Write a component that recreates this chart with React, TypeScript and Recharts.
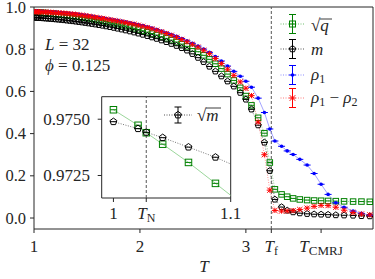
import React from 'react';
import { ComposedChart, Line, XAxis, YAxis, ReferenceLine, ReferenceArea } from 'recharts';

// ---------------- data ----------------
const T = [
  1.000, 1.021, 1.028, 1.042, 1.064, 1.087, 1.110, 1.133, 1.157, 1.181,
  1.206, 1.231, 1.257, 1.283, 1.310, 1.338, 1.366, 1.394, 1.424, 1.454,
  1.484, 1.515, 1.547, 1.580, 1.613, 1.647, 1.681, 1.717, 1.753, 1.789,
  1.827, 1.865, 1.905, 1.945, 1.985, 2.027, 2.070, 2.113, 2.158, 2.203,
  2.249, 2.296, 2.345, 2.394, 2.444, 2.495, 2.548, 2.601, 2.656, 2.712,
  2.769, 2.827, 2.886, 2.947, 3.000, 3.053, 3.116, 3.175, 3.226, 3.274,
  3.337, 3.390, 3.446, 3.509, 3.578, 3.644, 3.710, 3.776, 3.849, 3.927,
  4.012, 4.091, 4.170,
];

const SQRT_Q = [
  0.9754, 0.9747, 0.9744, 0.9739, 0.9731, 0.9722, 0.9712, 0.9703, 0.9693, 0.9682,
  0.9670, 0.9657, 0.9643, 0.9629, 0.9613, 0.9596, 0.9578, 0.9559, 0.9538, 0.9516,
  0.9494, 0.9468, 0.9440, 0.9410, 0.9378, 0.9345, 0.9310, 0.9272, 0.9232, 0.9190,
  0.9144, 0.9096, 0.9045, 0.8990, 0.8933, 0.8872, 0.8807, 0.8740, 0.8668, 0.8593,
  0.8514, 0.8430, 0.8338, 0.8240, 0.8135, 0.8030, 0.7880, 0.7710, 0.7520, 0.7310,
  0.7080, 0.6820, 0.6520, 0.6170, 0.5780, 0.5340, 0.4750, 0.4020, 0.2630, 0.1360,
  0.1120, 0.1010, 0.0930, 0.0880, 0.0850, 0.0830, 0.0820, 0.0810, 0.0800, 0.0790,
  0.0780, 0.0780, 0.0770,
];

const M = [
  0.9504, 0.9498, 0.9495, 0.9490, 0.9482, 0.9473, 0.9463, 0.9454, 0.9444, 0.9433,
  0.9422, 0.9410, 0.9397, 0.9383, 0.9368, 0.9352, 0.9335, 0.9317, 0.9297, 0.9276,
  0.9254, 0.9231, 0.9206, 0.9180, 0.9152, 0.9122, 0.9091, 0.9057, 0.9021, 0.8983,
  0.8942, 0.8899, 0.8852, 0.8802, 0.8750, 0.8693, 0.8632, 0.8568, 0.8500, 0.8425,
  0.8345, 0.8260, 0.8165, 0.8060, 0.7945, 0.7780, 0.7600, 0.7400, 0.7180, 0.6950,
  0.6720, 0.6480, 0.6240, 0.5940, 0.5620, 0.5150, 0.4400, 0.3580, 0.2240, 0.0880,
  0.0520, 0.0360, 0.0280, 0.0230, 0.0200, 0.0180, 0.0170, 0.0160, 0.0140, 0.0130,
  0.0120, 0.0100, 0.0090,
];

const RHO1 = [
  0.9810, 0.9806, 0.9804, 0.9801, 0.9796, 0.9791, 0.9786, 0.9780, 0.9774, 0.9767,
  0.9759, 0.9751, 0.9742, 0.9731, 0.9719, 0.9705, 0.9690, 0.9674, 0.9656, 0.9636,
  0.9614, 0.9591, 0.9567, 0.9541, 0.9514, 0.9486, 0.9457, 0.9427, 0.9396, 0.9364,
  0.9330, 0.9293, 0.9254, 0.9213, 0.9169, 0.9119, 0.9064, 0.9003, 0.8936, 0.8862,
  0.8783, 0.8699, 0.8606, 0.8505, 0.8395, 0.8278, 0.8147, 0.8005, 0.7850, 0.7650,
  0.7440, 0.7200, 0.6950, 0.6720, 0.6480, 0.6200, 0.5680, 0.5000, 0.4220, 0.3650,
  0.3400, 0.3180, 0.3010, 0.2780, 0.2510, 0.2110, 0.1600, 0.1120, 0.0720, 0.0510,
  0.0330, 0.0220, 0.0140,
];

const RHO1_MINUS_RHO2 = [
  0.9780, 0.9776, 0.9774, 0.9771, 0.9766, 0.9761, 0.9756, 0.9750, 0.9744, 0.9737,
  0.9729, 0.9721, 0.9712, 0.9700, 0.9688, 0.9674, 0.9659, 0.9643, 0.9625, 0.9605,
  0.9583, 0.9560, 0.9536, 0.9510, 0.9483, 0.9455, 0.9426, 0.9396, 0.9365, 0.9333,
  0.9298, 0.9261, 0.9222, 0.9180, 0.9136, 0.9085, 0.9030, 0.8968, 0.8900, 0.8825,
  0.8745, 0.8660, 0.8565, 0.8462, 0.8350, 0.8230, 0.8095, 0.7950, 0.7790, 0.7560,
  0.7320, 0.7050, 0.6760, 0.6450, 0.6150, 0.5800, 0.4550, 0.3000, 0.1320, 0.0360,
  0.0330, 0.0330, 0.0350, 0.0400, 0.0470, 0.0550, 0.0600, 0.0590, 0.0510, 0.0370,
  0.0260, 0.0190, 0.0150,
];

const INSET_T = [1.000, 1.021, 1.028, 1.042, 1.064, 1.087, 1.110];
const INSET_SQRT_Q = [0.97542, 0.97473, 0.97440, 0.97389, 0.97308, 0.97215, 0.97121];
const INSET_SQRT_M = [0.97489, 0.97458, 0.97442, 0.97418, 0.97376, 0.97331, 0.97278];

const T_F = 3.24;
const T_CMRJ = 3.71;
const T_N = 1.028;
const MAIN_X_TICKS = [1, 2, 3, T_F, T_CMRJ];
const MAIN_Y_TICKS = [0, 0.2, 0.4, 0.6, 0.8, 1.0];
const INSET_X_TICKS = [1, T_N, 1.1];
const INSET_Y_TICKS = [0.9725, 0.975];

const mainData = T.map((t, i) => ({
  t,
  q: SQRT_Q[i],
  m: M[i],
  r1: RHO1[i],
  r12: RHO1_MINUS_RHO2[i],
}));
const insetData = INSET_T.map((t, i) => ({ t, q: INSET_SQRT_Q[i], m: INSET_SQRT_M[i] }));

// ---------------- style ----------------
const SERIF = '"Liberation Serif", "DejaVu Serif", serif';
const INK = '#262626';
const GREEN = '#008000';
const BLACK = '#000000';
const BLUE = '#0000ff';
const RED = '#ff0000';

// ---------------- markers ----------------
function Square({ cx, cy, s, color }: any) {
  const h = s / 2;
  return (
    <g>
      <rect x={cx - h} y={cy - h} width={s} height={s} fill="none" stroke={color} strokeWidth={1} />
      <line x1={cx - h} x2={cx + h} y1={cy} y2={cy} stroke={color} strokeWidth={1} />
    </g>
  );
}
function Pentagon({ cx, cy, r, color }: any) {
  const pts = [0, 1, 2, 3, 4]
    .map((k) => {
      const a = ((-90 + 72 * k) * Math.PI) / 180;
      return `${cx + r * Math.cos(a)},${cy + r * Math.sin(a)}`;
    })
    .join(' ');
  return (
    <g>
      <polygon points={pts} fill="none" stroke={color} strokeWidth={1} />
      <line x1={cx - r} x2={cx + r} y1={cy} y2={cy} stroke={color} strokeWidth={1} />
    </g>
  );
}
function SmallDot({ cx, cy, r, color }: any) {
  return (
    <g>
      <circle cx={cx} cy={cy} r={r} fill={color} stroke="none" />
      <line x1={cx - 3.5} x2={cx + 3.5} y1={cy} y2={cy} stroke={color} strokeWidth={1} />
    </g>
  );
}
function Asterisk({ cx, cy, r, color }: any) {
  return (
    <g stroke={color} strokeWidth={1}>
      <line x1={cx - r} y1={cy - r} x2={cx + r} y2={cy + r} />
      <line x1={cx - r} y1={cy + r} x2={cx + r} y2={cy - r} />
      <line x1={cx - r - 0.5} y1={cy} x2={cx + r + 0.5} y2={cy} />
      <line x1={cx} y1={cy - r} x2={cx} y2={cy + r} />
    </g>
  );
}

const okPt = (p: any) => p && typeof p.cx === 'number' && typeof p.cy === 'number' && !isNaN(p.cy);

// ---------------- ticks ----------------
function MainXTick(props: any) {
  const { x, payload } = props;
  const v = payload.value;
  const y = 252;
  if (Math.abs(v - T_F) < 1e-6) {
    return (
      <text x={x} y={y} textAnchor="middle" fontFamily={SERIF} fontSize={17} fill={INK}>
        <tspan fontStyle="italic">T</tspan>
        <tspan fontSize={12} dy={3}>f</tspan>
      </text>
    );
  }
  if (Math.abs(v - T_CMRJ) < 1e-6) {
    return (
      <text x={x} y={y} textAnchor="middle" fontFamily={SERIF} fontSize={17} fill={INK}>
        <tspan fontStyle="italic">T</tspan>
        <tspan fontSize={13} dy={3}>CMRJ</tspan>
      </text>
    );
  }
  return (
    <text x={x} y={y} textAnchor="middle" fontFamily={SERIF} fontSize={17} fill={INK}>
      {String(v)}
    </text>
  );
}
function MainYTick(props: any) {
  const { y, payload } = props;
  return (
    <text x={26} y={y + 5.5} textAnchor="end" fontFamily={SERIF} fontSize={16.5} fill={INK}>
      {Number(payload.value).toFixed(1)}
    </text>
  );
}
function InsetXTick(props: any) {
  const { x, payload } = props;
  const v = payload.value;
  const y = 129;
  if (Math.abs(v - T_N) < 1e-6) {
    return (
      <text x={x} y={y} textAnchor="middle" fontFamily={SERIF} fontSize={17} fill={INK}>
        <tspan fontStyle="italic">T</tspan>
        <tspan fontSize={12} dy={3}>N</tspan>
      </text>
    );
  }
  return (
    <text x={x} y={y} textAnchor="middle" fontFamily={SERIF} fontSize={17} fill={INK}>
      {String(v)}
    </text>
  );
}
function InsetYTick(props: any) {
  const { y, payload } = props;
  return (
    <text x={50} y={y + 5.5} textAnchor="end" fontFamily={SERIF} fontSize={17} fill={INK}>
      {Number(payload.value).toFixed(4)}
    </text>
  );
}

// ---------------- legend glyph ----------------
function ErrGlyph({ cx, cy, color, lineColor, children, half = 9.5, lineHalf = 12 }: any) {
  return (
    <g>
      <line x1={cx - lineHalf} x2={cx + lineHalf} y1={cy} y2={cy} stroke={lineColor} strokeWidth={1} strokeDasharray="1 1.5" />
      <line x1={cx} x2={cx} y1={cy - half} y2={cy + half} stroke={color} strokeWidth={1} />
      <line x1={cx - 3.5} x2={cx + 3.5} y1={cy - half} y2={cy - half} stroke={color} strokeWidth={1} />
      <line x1={cx - 3.5} x2={cx + 3.5} y1={cy + half} y2={cy + half} stroke={color} strokeWidth={1} />
      {children}
    </g>
  );
}

const LX = 292.5;

export default function App() {
  return (
    <div style={{ position: 'absolute', left: 0, top: 0, width: 375, height: 279, background: '#fff' }}>
      <div style={{ position: 'absolute', left: 0, top: 0 }}>
        <ComposedChart width={375} height={279} data={mainData} margin={{ top: 7, right: 2, left: 0, bottom: 0 }}>
          <XAxis
            type="number"
            dataKey="t"
            domain={[1, 4.2]}
            allowDataOverflow
            ticks={MAIN_X_TICKS}
            interval={0}
            tick={<MainXTick />}
            tickSize={4}
            tickLine={{ stroke: INK }}
            axisLine={false}
            height={50}
          />
          <YAxis
            type="number"
            domain={[-0.052, 1.0]}
            allowDataOverflow
            ticks={MAIN_Y_TICKS}
            interval={0}
            tick={<MainYTick />}
            tickSize={4}
            tickLine={{ stroke: INK }}
            axisLine={false}
            width={34}
          />
          <ReferenceArea x1={1} x2={4.2} y1={-0.052} y2={1.0} fill="none" stroke={INK} strokeWidth={1} />
          <ReferenceLine x={T_F} stroke="#555" strokeDasharray="3 2" strokeWidth={1} />
          <Line
            type="linear"
            dataKey="q"
            stroke="#6fbf6f"
            strokeWidth={0.8}
            strokeDasharray="1 1.5"
            isAnimationActive={false}
            activeDot={false}
            dot={(p: any) => (okPt(p) ? <Square key={`q${p.index}`} cx={p.cx} cy={p.cy} s={5.5} color={GREEN} /> : <g key={`q${p.index}`} />)}
          />
          <Line
            type="linear"
            dataKey="m"
            stroke="#555"
            strokeWidth={0.8}
            strokeDasharray="1 1.5"
            isAnimationActive={false}
            activeDot={false}
            dot={(p: any) => (okPt(p) ? <Pentagon key={`m${p.index}`} cx={p.cx} cy={p.cy} r={3.2} color={BLACK} /> : <g key={`m${p.index}`} />)}
          />
          <Line
            type="linear"
            dataKey="r1"
            stroke="#8c8cff"
            strokeWidth={0.8}
            isAnimationActive={false}
            activeDot={false}
            dot={(p: any) => (okPt(p) ? <SmallDot key={`b${p.index}`} cx={p.cx} cy={p.cy} r={1.8} color={BLUE} /> : <g key={`b${p.index}`} />)}
          />
          <Line
            type="linear"
            dataKey="r12"
            stroke="#ff7a7a"
            strokeWidth={0.8}
            strokeDasharray="1 1.5"
            isAnimationActive={false}
            activeDot={false}
            dot={(p: any) => (okPt(p) ? <Asterisk key={`r${p.index}`} cx={p.cx} cy={p.cy} r={2.6} color={RED} /> : <g key={`r${p.index}`} />)}
          />

          {/* annotations */}
          <text x={45} y={50} fontFamily={SERIF} fontSize={17} fill={INK}>
            <tspan fontStyle="italic">L</tspan>
            <tspan> = 32</tspan>
          </text>
          <text x={45} y={71} fontFamily={SERIF} fontSize={17} fill={INK}>
            <tspan fontStyle="italic">ϕ</tspan>
            <tspan> = 0.125</tspan>
          </text>
          <text x={204} y={272} textAnchor="middle" fontFamily={SERIF} fontSize={17} fontStyle="italic" fill={INK}>
            T
          </text>

          {/* legend */}
          <ErrGlyph cx={LX} cy={24} color={GREEN} lineColor="#6fbf6f">
            <Square cx={LX} cy={24} s={6} color={GREEN} />
          </ErrGlyph>
          <text x={311} y={31} fontFamily={SERIF} fontSize={17} fill={INK}>
            √<tspan fontStyle="italic">q</tspan>
          </text>
          <line x1={320} x2={332} y1={19} y2={19} stroke={INK} strokeWidth={0.9} />

          <ErrGlyph cx={LX} cy={49} color={BLACK} lineColor="#555">
            <Pentagon cx={LX} cy={49} r={3.4} color={BLACK} />
          </ErrGlyph>
          <text x={311} y={55} fontFamily={SERIF} fontSize={17} fontStyle="italic" fill={INK}>
            m
          </text>

          <ErrGlyph cx={LX} cy={75} color={BLUE} lineColor="#8c8cff">
            <SmallDot cx={LX} cy={75} r={1.8} color={BLUE} />
          </ErrGlyph>
          <text x={311} y={80} fontFamily={SERIF} fontSize={17} fill={INK}>
            <tspan fontStyle="italic">ρ</tspan>
            <tspan fontSize={12} dy={3}>1</tspan>
          </text>

          <ErrGlyph cx={LX} cy={98} color={RED} lineColor="#ff7a7a">
            <Asterisk cx={LX} cy={98} r={2.8} color={RED} />
          </ErrGlyph>
          <text x={311} y={103} fontFamily={SERIF} fontSize={17} fill={INK}>
            <tspan fontStyle="italic">ρ</tspan>
            <tspan fontSize={12} dy={3}>1</tspan>
            <tspan dy={-3}> − </tspan>
            <tspan fontStyle="italic">ρ</tspan>
            <tspan fontSize={12} dy={3}>2</tspan>
          </text>
        </ComposedChart>
      </div>

      {/* inset */}
      <div style={{ position: 'absolute', left: 40, top: 90 }}>
        <ComposedChart width={212} height={140} data={insetData} margin={{ top: 6.7, right: 21.3, left: 0, bottom: 0 }}>
          <XAxis
            type="number"
            dataKey="t"
            domain={[0.99, 1.1]}
            allowDataOverflow
            ticks={INSET_X_TICKS}
            interval={0}
            tick={<InsetXTick />}
            tickSize={4}
            tickLine={{ stroke: INK }}
            axisLine={false}
            height={32}
          />
          <YAxis
            type="number"
            domain={[0.9715, 0.976]}
            allowDataOverflow
            ticks={INSET_Y_TICKS}
            interval={0}
            tick={<InsetYTick />}
            tickSize={4}
            tickLine={{ stroke: INK }}
            axisLine={false}
            width={61.7}
          />
          <ReferenceArea x1={0.99} x2={1.1} y1={0.9715} y2={0.976} fill="none" stroke={INK} strokeWidth={1} />
          <ReferenceLine x={T_N} stroke="#555" strokeDasharray="3 2" strokeWidth={1} />
          <Line
            type="linear"
            dataKey="q"
            stroke="#8fd18f"
            strokeWidth={0.9}
            isAnimationActive={false}
            activeDot={false}
            dot={(p: any) => (okPt(p) ? <Square key={`iq${p.index}`} cx={p.cx} cy={p.cy} s={6.5} color={GREEN} /> : <g key={`iq${p.index}`} />)}
          />
          <Line
            type="linear"
            dataKey="m"
            stroke="#555"
            strokeWidth={0.8}
            strokeDasharray="1 1.5"
            isAnimationActive={false}
            activeDot={false}
            dot={(p: any) => (okPt(p) ? <Pentagon key={`im${p.index}`} cx={p.cx} cy={p.cy} r={3.6} color={BLACK} /> : <g key={`im${p.index}`} />)}
          />
          <ErrGlyph cx={138} cy={25} color={BLACK} lineColor="#555" half={8} lineHalf={14}>
            <Pentagon cx={138} cy={25} r={3.6} color={BLACK} />
          </ErrGlyph>
          <text x={157} y={31} fontFamily={SERIF} fontSize={17} fill={INK}>
            √<tspan fontStyle="italic">m</tspan>
          </text>
          <line x1={166} x2={181} y1={18} y2={18} stroke={INK} strokeWidth={0.9} />
        </ComposedChart>
      </div>
    </div>
  );
}
